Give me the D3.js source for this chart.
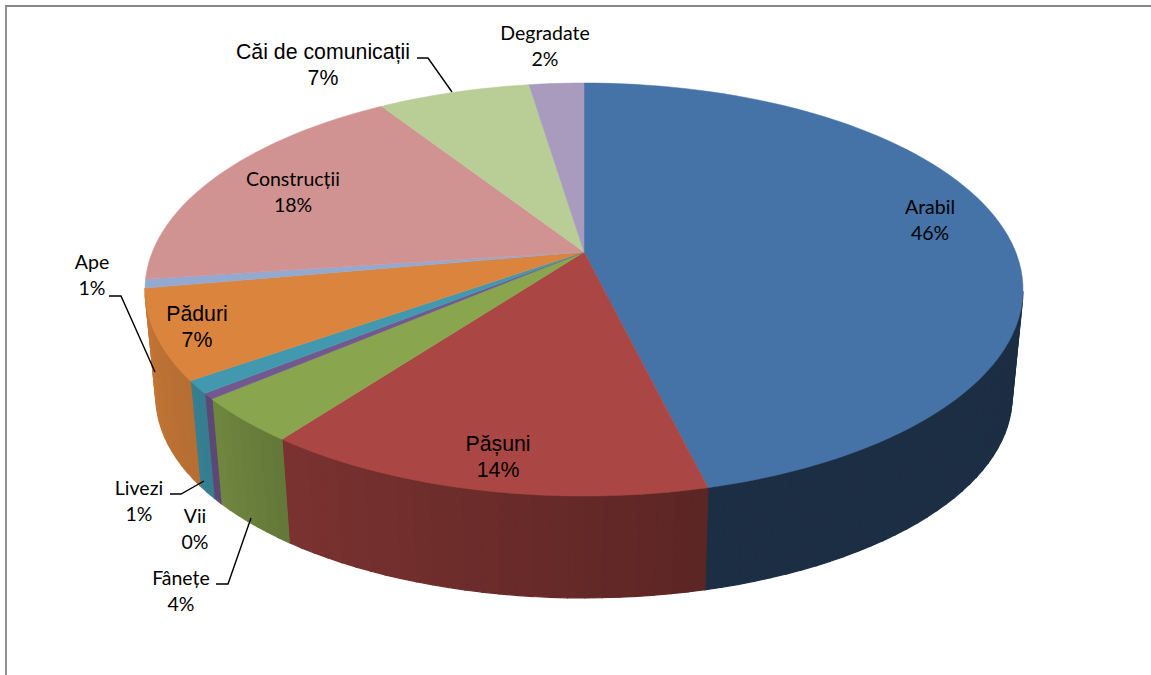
<!DOCTYPE html>
<html>
<head>
<meta charset="utf-8">
<script src="https://cdn.jsdelivr.net/npm/d3@7"></script>
<style>
  html, body { margin: 0; background: #fff; overflow: hidden; }
  svg { display: block; }
  text { fill: #000; text-anchor: middle; }
  .calibri { font-family: Lato, sans-serif; font-size: 19.5px; }
  .arial { font-family: "Liberation Sans", sans-serif; font-size: 21.3px; }
</style>
</head>
<body>
<svg width="1151" height="675"></svg>
<script>
const categories = ['Arabil', 'Pășuni', 'Fânețe', 'Vii', 'Livezi', 'Păduri', 'Ape', 'Construcții', 'Căi de comunicații', 'Degradate']
const values = [46.2, 14.0, 3.55, 0.45, 1.0, 7.0, 0.7, 18.0, 6.7, 2.4]
const colors = ['#4572a7', '#aa4643', '#89a54e', '#71588f', '#4198af', '#db843d', '#93a9cf', '#d19392', '#b9cd96', '#a99bbd']

// label centres, two lines each
const labelPos = [
  [930, 214, 'calibri'], [498, 451, 'arial'], [181, 585, 'calibri'], [195, 523, 'calibri'], [139, 495, 'calibri'],
  [197, 321, 'arial'], [92, 269, 'calibri'], [293, 186, 'calibri'], [323, 59, 'arial'], [545, 40, 'calibri']
]
const leaders = [
  [[109, 296], [121, 296], [155, 372]],
  [[216, 584], [228, 584], [251, 518]],
  [[170, 494], [181, 494], [204, 481]],
  [[417, 58], [428, 58], [452, 92]]
]

const total = d3.sum(values)
const svg = d3.select('svg')

// perspective of the disc, u = right, v = towards the viewer
const k = 0.1817
const project = (disc, a) => {
  let u = Math.sin(a)
  let v = -Math.cos(a)
  let w = 1 - k * v
  return [disc.cx + disc.a * u / w, disc.cy + disc.b * v / w]
}
const topDisc = { cx: 584, cy: 252, a: 431.7, b: 199.7 }
const lowDisc = { cx: 584, cy: 360, a: 421, b: 194.7 }

const deg = Math.PI / 180
const shade = d3.scaleLinear()
  .domain([90, 166, 166.5, 216, 230, 270])
  .range([0.4, 0.4, 0.54, 0.72, 0.82, 0.92])
  .clamp(true)

const arcs = d3.pie().sort(null).value(d => d)(values)
const step = 2 * deg

const arcAngles = d => {
  let n = Math.max(1, Math.ceil((d.endAngle - d.startAngle) / step))
  return d3.range(n + 1).map(i => d.startAngle + (d.endAngle - d.startAngle) * i / n)
}

svg.append('path')
  .attr('d', 'M6 675V6H1151')
  .attr('fill', 'none')
  .attr('stroke', '#868686')
  .attr('stroke-width', 1.8)

const line = d3.line()

// walls, cut in strips so the shade follows the rim; only the front part shows
const walls = svg.append('g')
arcs.forEach((d, i) => {
  d3.pairs(arcAngles(d)).forEach(([a0, a1]) => {
    let mid = (a0 + a1) / 2 / deg
    if (mid < 100 || mid > 260) return
    let c = d3.rgb(colors[i])
    let f = shade(mid)
    let fill = d3.rgb(c.r * f, c.g * f, c.b * f)
    walls.append('path')
      .attr('d', line([project(topDisc, a0), project(topDisc, a1), project(lowDisc, a1), project(lowDisc, a0)]) + 'Z')
      .attr('fill', fill)
      .attr('stroke', fill)
      .attr('stroke-width', 1.2)
  })
})

// top face
svg.append('g').selectAll('path')
  .data(arcs)
  .enter()
  .append('path')
  .attr('fill', (d, i) => colors[i])
  .attr('stroke', (d, i) => colors[i])
  .attr('stroke-width', 0.5)
  .attr('d', d => line([[topDisc.cx, topDisc.cy]].concat(arcAngles(d).map(a => project(topDisc, a)))) + 'Z')

svg.append('g').selectAll('path')
  .data(leaders)
  .enter()
  .append('path')
  .attr('d', d => line(d))
  .attr('fill', 'none')
  .attr('stroke', '#000')
  .attr('stroke-width', 1.4)

const labels = svg.append('g').selectAll('text')
  .data(categories)
  .enter()
  .append('text')
  .attr('class', (d, i) => labelPos[i][2])

labels.append('tspan')
  .attr('x', (d, i) => labelPos[i][0])
  .attr('y', (d, i) => labelPos[i][1])
  .text(d => d)

labels.append('tspan')
  .attr('x', (d, i) => labelPos[i][0])
  .attr('y', (d, i) => labelPos[i][1] + 26)
  .text((d, i) => Math.round(values[i] / total * 100) + '%')
</script>
</body>
</html>
